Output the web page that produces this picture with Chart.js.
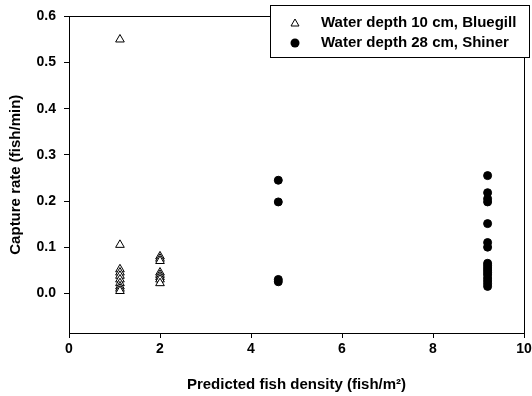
<!DOCTYPE html>
<html>
<head>
<meta charset="utf-8">
<script src="https://cdn.jsdelivr.net/npm/chart.js@4.4.1/dist/chart.umd.min.js"></script>
<style>
  html, body { margin: 0; padding: 0; background: #fff; }
  #wrap { width: 532px; height: 396px; }
</style>
</head>
<body>
<div id="wrap"><canvas id="chart"></canvas></div>
<script>
// values
const bluegillX = [1.12, 1.12, 1.12, 1.12, 1.12, 1.12, 1.12, 1.12, 1.12, 1.12,
                   2.0, 2.0, 2.0, 2.0, 2.0, 2.0, 2.0, 2.0];
const bluegillY = [0.55, 0.105, 0.052, 0.045, 0.038, 0.03, 0.022, 0.015, 0.01, 0.005,
                   0.08, 0.075, 0.07, 0.045, 0.04, 0.035, 0.03, 0.022];

const shinerX = [4.6, 4.6, 4.6, 4.6,
                 9.2, 9.2, 9.2, 9.2, 9.2, 9.2, 9.2, 9.2, 9.2, 9.2, 9.2,
                 9.2, 9.2, 9.2, 9.2, 9.2, 9.2];
const shinerY = [0.245, 0.198, 0.03, 0.025,
                 0.255, 0.218, 0.205, 0.198, 0.151, 0.11, 0.1,
                 0.065, 0.06, 0.055, 0.05, 0.045, 0.04, 0.033, 0.027, 0.021, 0.015];

const xTicks = [0, 2, 4, 6, 8, 10];
const yTicks = [0.0, 0.1, 0.2, 0.3, 0.4, 0.5, 0.6];

const labels = ["Water depth 10 cm, Bluegill", "Water depth 28 cm, Shiner"];

const toPoints = (xs, ys) => xs.map((x, i) => ({ x: x, y: ys[i] }));

const FONT = "Liberation Sans, Arial, sans-serif";

// frame around the plot area + the boxed legend in the top right
const framePlugin = {
  id: "frame",
  afterDraw(chart) {
    const ctx = chart.ctx;
    const a = chart.chartArea;
    ctx.save();
    ctx.strokeStyle = "#000";
    ctx.lineWidth = 1;
    ctx.strokeRect(Math.round(a.left) + 0.5, Math.round(a.top) + 0.5,
                   Math.round(a.right - a.left), Math.round(a.bottom - a.top));

    // legend box
    const bx = 270, by = 5, bw = 259, bh = 52;
    ctx.fillStyle = "#fff";
    ctx.fillRect(bx, by, bw, bh);
    ctx.strokeRect(bx + 0.5, by + 0.5, bw, bh);

    const rows = [23, 43];
    chart.data.datasets.forEach((ds, i) => {
      const y = rows[i];
      ctx.beginPath();
      if (ds.pointStyle === "triangle") {
        ctx.moveTo(295, y - 4);
        ctx.lineTo(299, y + 3);
        ctx.lineTo(291, y + 3);
        ctx.closePath();
        ctx.fillStyle = "#fff";
        ctx.fill();
        ctx.stroke();
      } else {
        ctx.arc(295, y, 4.5, 0, Math.PI * 2);
        ctx.fillStyle = "#000";
        ctx.fill();
      }
      ctx.fillStyle = "#000";
      ctx.font = "bold 15px " + FONT;
      ctx.textBaseline = "middle";
      ctx.textAlign = "left";
      ctx.fillText(ds.label, 321, y);
    });
    ctx.restore();
  }
};

new Chart(document.getElementById("chart"), {
  type: "scatter",
  data: {
    datasets: [
      {
        label: labels[0],
        data: toPoints(bluegillX, bluegillY),
        pointStyle: "triangle",
        pointRadius: 5,
        backgroundColor: "#fff",
        borderColor: "#000",
        borderWidth: 1
      },
      {
        label: labels[1],
        data: toPoints(shinerX, shinerY),
        pointStyle: "circle",
        pointRadius: 4,
        backgroundColor: "#000",
        borderColor: "#000",
        borderWidth: 1
      }
    ]
  },
  options: {
    responsive: true,
    maintainAspectRatio: false,
    animation: false,
    layout: { padding: { top: 15, right: 8, left: 0, bottom: 0 } },
    plugins: {
      legend: { display: false },
      tooltip: { enabled: false }
    },
    scales: {
      x: {
        type: "linear",
        min: 0,
        max: 10,
        afterBuildTicks: s => { s.ticks = xTicks.map(v => ({ value: v })); },
        afterFit: s => { s.height = 63; s.paddingLeft = 0; s.paddingRight = 0; },
        grid: { drawOnChartArea: false, drawTicks: true, tickLength: 5, color: "#000" },
        border: { display: true, color: "#000", width: 1 },
        ticks: {
          color: "#000",
          padding: 3,
          maxRotation: 0,
          font: { family: FONT, size: 14, weight: "bold" }
        },
        title: {
          display: true,
          text: "Predicted fish density (fish/m²)",
          color: "#000",
          padding: { top: 0, bottom: 2 },
          font: { family: FONT, size: 15, weight: "bold" }
        }
      },
      y: {
        type: "linear",
        min: -0.086,
        max: 0.6,
        afterBuildTicks: s => { s.ticks = yTicks.map(v => ({ value: v })); },
        afterFit: s => { s.width = 69; },
        grid: { drawOnChartArea: false, drawTicks: true, tickLength: 5, color: "#000" },
        border: { display: true, color: "#000", width: 1 },
        ticks: {
          color: "#000",
          padding: 8,
          callback: v => Number(v).toFixed(1),
          font: { family: FONT, size: 14, weight: "bold" }
        },
        title: {
          display: true,
          text: "Capture rate (fish/min)",
          color: "#000",
          padding: { top: 7, bottom: 0 },
          font: { family: FONT, size: 15, weight: "bold" }
        }
      }
    }
  },
  plugins: [framePlugin]
});
</script>
</body>
</html>
